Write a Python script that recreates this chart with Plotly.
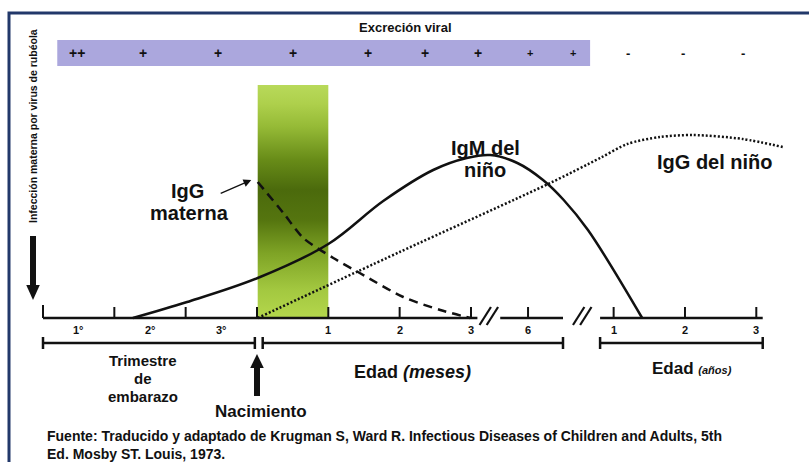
import plotly.graph_objects as go

# ---------------- data ----------------
# x: timeline units (trimesters / months / years on a schematic scale), y: antibody level (arbitrary)
igm_x = [1.26, 2.02, 3.01, 4.00, 4.77, 5.47, 5.94, 6.27, 6.65, 7.01, 7.30, 7.64, 8.40]
igm_y = [0.00, 0.16, 0.40, 0.74, 1.17, 1.48, 1.60, 1.63, 1.55, 1.38, 1.18, 0.88, 0.00]

iggm_x = [3.01, 3.37, 3.65, 4.07, 4.44, 5.05, 5.57, 5.99]
iggm_y = [1.36, 1.05, 0.80, 0.60, 0.45, 0.21, 0.08, 0.00]

iggc_x = [3.01, 5.00, 7.11, 7.81, 8.19, 8.65, 9.11, 9.81, 10.37]
iggc_y = [0.00, 0.66, 1.35, 1.60, 1.74, 1.81, 1.83, 1.79, 1.71]

tick_pos = [0, 1, 2, 3, 4, 5, 6, 6.8, 8, 9, 10]
trim_labels = ["1°", "2°", "3°"]
trim_pos = [0.5, 1.5, 2.5]
month_labels = ["1", "2", "3", "6"]
month_pos = [4, 5, 6, 6.8]
year_labels = ["1", "2", "3"]
year_pos = [8, 9, 10]
axis_segments = [(0, 6.09), (6.41, 7.29), (7.81, 10.09)]
break_pos = [6.25, 7.56]

excretion_signs = ["++", "+", "+", "+", "+", "+", "+", "+", "+", "-", "-", "-"]
excretion_pos = [0.48, 1.40, 2.45, 3.50, 4.56, 5.36, 6.10, 6.83, 7.43, 8.20, 8.97, 9.81]
excretion_size = [14, 14, 14, 14, 14, 14, 14, 11, 11, 13, 13, 13]
excretion_band = (0.20, 7.67, 2.52, 2.78)

newborn_window = (3.01, 4.0, 0.0, 2.33)

bars = [(0.0, 2.97), (3.08, 7.29), (7.81, 10.09)]

BLACK = "#111111"
fig = go.Figure()

# excretion band
bx0, bx1, by0, by1 = excretion_band
fig.add_shape(type="rect", x0=bx0, x1=bx1, y0=by0, y1=by1, fillcolor="#aba7dd", line_width=0, layer="below")

# green newborn window with vertical gradient
gx0, gx1, gy0, gy1 = newborn_window
fig.add_trace(go.Scatter(
    x=[gx0, gx1, gx1, gx0, gx0], y=[gy0, gy0, gy1, gy1, gy0], mode="lines",
    line=dict(width=0), fill="toself",
    fillgradient=dict(type="vertical", colorscale=[
        [0.0, "#b4d74c"], [0.12, "#a3c840"], [0.28, "#7ea325"], [0.42, "#55750f"],
        [0.55, "#4b6a0c"], [0.68, "#688c18"], [0.82, "#95ba36"], [0.92, "#aed04c"], [1.0, "#b8d95a"]]),
    hoverinfo="skip", showlegend=False))

# curves
fig.add_trace(go.Scatter(x=igm_x, y=igm_y, mode="lines", line=dict(color=BLACK, width=2.5, shape="spline", smoothing=1.0),
                         showlegend=False, hoverinfo="skip"))
fig.add_trace(go.Scatter(x=iggm_x, y=iggm_y, mode="lines", line=dict(color=BLACK, width=2.5, dash="9px,6px", shape="spline", smoothing=0.8),
                         showlegend=False, hoverinfo="skip"))
fig.add_trace(go.Scatter(x=iggc_x, y=iggc_y, mode="lines", line=dict(color=BLACK, width=2.5, dash="2px,2px", shape="spline", smoothing=0.8),
                         showlegend=False, hoverinfo="skip"))

# time axis segments
ax_x, ax_y = [], []
for a, b in axis_segments:
    ax_x += [a, b, None]
    ax_y += [0, 0, None]
fig.add_trace(go.Scatter(x=ax_x, y=ax_y, mode="lines", line=dict(color=BLACK, width=2.5), showlegend=False, hoverinfo="skip"))
# ticks
tx, ty = [], []
for p in tick_pos:
    tx += [p, p, None]
    ty += [0, 0.11 if p > 0 else 0.13, None]
fig.add_trace(go.Scatter(x=tx, y=ty, mode="lines", line=dict(color=BLACK, width=2), showlegend=False, hoverinfo="skip"))
# break marks //
kx, ky = [], []
for p in break_pos:
    for d in (-0.05, 0.05):
        kx += [p + d - 0.08, p + d + 0.08, None]
        ky += [-0.07, 0.11, None]
fig.add_trace(go.Scatter(x=kx, y=ky, mode="lines", line=dict(color=BLACK, width=2.2), showlegend=False, hoverinfo="skip"))

# bottom range bars
rx, ry = [], []
for a, b in bars:
    rx += [a, b, None, a, a, None, b, b, None]
    ry += [-0.25, -0.25, None, -0.19, -0.31, None, -0.19, -0.31, None]
fig.add_trace(go.Scatter(x=rx, y=ry, mode="lines", line=dict(color=BLACK, width=2.5), showlegend=False, hoverinfo="skip"))

# arrows (shafts + heads)
fig.add_shape(type="line", x0=-0.14, x1=-0.14, y0=0.82, y1=0.30, line=dict(color=BLACK, width=6))
fig.add_shape(type="path", path="M -0.235 0.33 L -0.045 0.33 L -0.14 0.18 Z", fillcolor=BLACK, line_width=0)
fig.add_shape(type="line", x0=3.0, x1=3.0, y0=-0.78, y1=-0.46, line=dict(color=BLACK, width=6))
fig.add_shape(type="path", path="M 2.905 -0.50 L 3.095 -0.50 L 3.0 -0.36 Z", fillcolor=BLACK, line_width=0)
fig.add_annotation(x=2.92, y=1.38, ax=2.47, ay=1.24, xref="x", yref="y", axref="x", ayref="y",
                   text="", showarrow=True, arrowhead=2, arrowsize=1.2, arrowwidth=1.3, arrowcolor=BLACK, standoff=0)

# frame
fig.add_shape(type="rect", xref="paper", yref="paper", x0=9 / 809, x1=1.02, y0=-0.05, y1=1 - 13 / 462,
              line=dict(color="#22386a", width=3), fillcolor="rgba(0,0,0,0)")

F = "Liberation Sans, Arial, sans-serif"

def txt(x, y, s, size, **kw):
    fig.add_annotation(x=x, y=y, xref="x", yref="y", text=s, showarrow=False,
                       font=dict(family=kw.pop("family", F), size=size, color=kw.pop("color", BLACK)), **kw)

txt(5.075, 2.91, "<b>Excreción viral</b>", 13)
for s, p, sz in zip(excretion_signs, excretion_pos, excretion_size):
    txt(p, 2.65, "<b>" + s + "</b>", sz)

txt(-0.14, 1.92, "<b>Infección materna por virus de rubéola</b>", 10.5, textangle=-90)

for s, p in zip(trim_labels, trim_pos):
    txt(p, -0.12, "<b>" + s + "</b>", 11)
for s, p in zip(month_labels, month_pos):
    txt(p, -0.12, "<b>" + s + "</b>", 11)
for s, p in zip(year_labels, year_pos):
    txt(p, -0.12, "<b>" + s + "</b>", 11)

txt(2.02, 1.27, "<b>IgG</b>", 20)
txt(2.05, 1.05, "<b>materna</b>", 20)
txt(6.2, 1.70, "<b>IgM del</b>", 20)
txt(6.2, 1.48, "<b>niño</b>", 20)
txt(9.42, 1.56, "<b>IgG del niño</b>", 20)

txt(1.40, -0.42, "<b>Trimestre</b>", 15)
txt(1.40, -0.60, "<b>de</b>", 15)
txt(1.40, -0.78, "<b>embarazo</b>", 15)
txt(5.18, -0.54, "<b>Edad <i>(meses)</i></b>", 18)
txt(9.1, -0.50, "<b>Edad <i><span style='font-size:11px'>(años)</span></i></b>", 17)
txt(3.05, -0.93, "<b>Nacimiento</b>", 17)

fig.add_annotation(x=0.03, y=-1.265, xref="x", yref="y", xanchor="left", align="left", showarrow=False,
                   text="<b>Fuente: Traducido y adaptado de Krugman S, Ward R. Infectious Diseases of Children and Adults, 5th<br>Ed. Mosby ST. Louis, 1973.</b>",
                   font=dict(family=F, size=14, color=BLACK))

fig.update_layout(
    width=809, height=462, margin=dict(l=0, r=0, t=0, b=0),
    paper_bgcolor="white", plot_bgcolor="white", showlegend=False,
    xaxis=dict(range=[-43 / 71.33, 766 / 71.33], visible=False, fixedrange=True),
    yaxis=dict(range=[-1.44, 3.18], visible=False, fixedrange=True),
)

fig.write_html("out.html", config={"displayModeBar": False},
               post_script="document.body.style.margin='0';document.body.style.overflow='hidden';")
